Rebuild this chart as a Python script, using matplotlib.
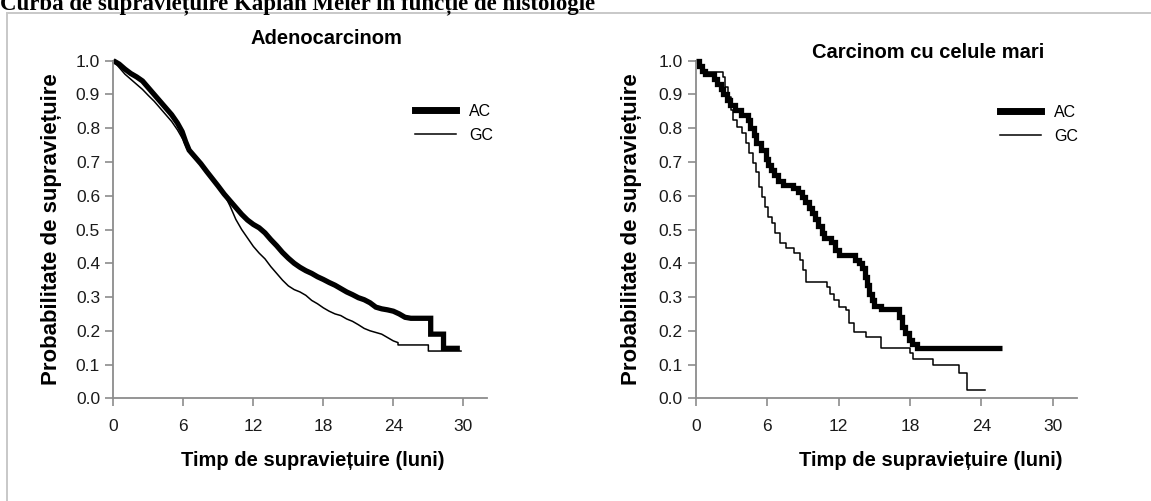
import matplotlib
matplotlib.use('Agg')
import matplotlib.pyplot as plt
from matplotlib.lines import Line2D

# ---------------- data ----------------
fig_title = "Curba de supraviețuire Kaplan Meier în funcție de histologie"
panel_titles = ["Adenocarcinom", "Carcinom cu celule mari"]
xlabel = "Timp de supraviețuire (luni)"
ylabel = "Probabilitate de supraviețuire"
series_labels = ["AC", "GC"]
x_ticks = [0, 6, 12, 18, 24, 30]
y_ticks = [0.0, 0.1, 0.2, 0.3, 0.4, 0.5, 0.6, 0.7, 0.8, 0.9, 1.0]

# Panel 1 - Adenocarcinom
adeno_ac_t = [0, 0.5, 1.0, 1.5, 2.0, 2.5, 3.0, 3.5, 4.0, 4.5, 5.0, 5.5, 5.9, 6.2, 6.5,
              7.0, 7.5, 8.0, 8.5, 9.0, 9.5, 10.0, 10.5, 11.0, 11.5, 12.0, 12.5, 13.0,
              13.5, 14.0, 14.5, 15.0, 15.5, 16.0, 16.5, 17.0, 17.5, 18.0, 18.5, 19.0,
              19.5, 20.0, 20.5, 21.0, 21.5, 22.0, 22.5, 23.0, 23.5, 24.0, 24.5, 25.0,
              25.5, 27.2, 27.2, 28.3, 28.3, 29.7]
adeno_ac_s = [1.0, 0.99, 0.975, 0.962, 0.952, 0.94, 0.92, 0.90, 0.88, 0.86, 0.84, 0.815,
              0.79, 0.76, 0.735, 0.715, 0.695, 0.672, 0.65, 0.628, 0.605, 0.585, 0.565,
              0.545, 0.528, 0.515, 0.505, 0.49, 0.47, 0.452, 0.432, 0.415, 0.40, 0.388,
              0.378, 0.37, 0.36, 0.352, 0.343, 0.335, 0.325, 0.315, 0.307, 0.298, 0.292,
              0.283, 0.27, 0.265, 0.262, 0.258, 0.25, 0.24, 0.237, 0.237, 0.19, 0.19,
              0.148, 0.148]
adeno_gc_t = [0, 0.5, 1.0, 1.5, 2.0, 2.5, 3.0, 3.5, 4.0, 4.5, 5.0, 5.5, 6.0, 6.3, 6.6,
              7.0, 7.5, 8.0, 8.5, 9.0, 9.5, 10.0, 10.5, 11.0, 11.5, 12.0, 12.5, 13.0,
              13.5, 14.0, 14.5, 15.0, 15.5, 16.0, 16.5, 17.0, 17.5, 18.0, 18.5, 19.0,
              19.5, 20.0, 20.5, 21.0, 21.5, 22.0, 22.5, 23.0, 23.5, 24.0, 24.4, 24.4,
              27.0, 27.0, 29.8]
adeno_gc_s = [1.0, 0.98, 0.96, 0.945, 0.93, 0.915, 0.897, 0.88, 0.86, 0.84, 0.82, 0.795,
              0.765, 0.74, 0.725, 0.71, 0.69, 0.67, 0.65, 0.628, 0.605, 0.57, 0.53, 0.50,
              0.475, 0.45, 0.43, 0.413, 0.39, 0.37, 0.35, 0.333, 0.322, 0.315, 0.305,
              0.29, 0.28, 0.268, 0.258, 0.25, 0.245, 0.235, 0.228, 0.218, 0.207, 0.20,
              0.195, 0.19, 0.18, 0.17, 0.165, 0.158, 0.158, 0.14, 0.14]

# Panel 2 - Carcinom cu celule mari
large_ac_t = [0, 0.3, 0.5, 0.8, 1.5, 1.8, 2.1, 2.3, 2.6, 2.9, 3.3, 3.8, 4.4, 4.6, 4.9,
              5.1, 5.5, 5.9, 6.1, 6.3, 6.6, 6.9, 7.3, 8.2, 8.6, 8.9, 9.2, 9.5, 9.8, 10.0,
              10.3, 10.6, 10.8, 11.4, 11.7, 12.0, 13.4, 13.7, 14.0, 14.2, 14.4, 14.6,
              14.8, 15.0, 15.6, 17.1, 17.3, 17.55, 17.9, 18.2, 18.6, 25.7]
large_ac_s = [1.0, 0.985, 0.97, 0.96, 0.945, 0.93, 0.915, 0.90, 0.885, 0.87, 0.855, 0.84,
              0.825, 0.80, 0.78, 0.755, 0.735, 0.71, 0.69, 0.675, 0.66, 0.645, 0.632,
              0.622, 0.61, 0.597, 0.58, 0.565, 0.548, 0.53, 0.51, 0.49, 0.475, 0.462,
              0.44, 0.424, 0.41, 0.40, 0.385, 0.36, 0.335, 0.31, 0.29, 0.272, 0.265,
              0.242, 0.212, 0.192, 0.173, 0.16, 0.148, 0.148]
large_gc_t = [0, 0.3, 0.64, 2.3, 2.5, 2.75, 2.95, 3.15, 3.5, 3.9, 4.2, 4.5, 4.8, 5.1,
              5.35, 5.6, 5.8, 6.1, 6.4, 6.7, 7.1, 7.6, 8.3, 8.8, 9.0, 9.3, 11.0, 11.3,
              11.6, 12.0, 12.6, 12.9, 13.3, 14.3, 15.6, 18.0, 18.3, 19.9, 22.1, 22.8, 24.3]
large_gc_s = [1.0, 0.98, 0.967, 0.953, 0.923, 0.893, 0.854, 0.824, 0.805, 0.785, 0.755,
              0.726, 0.696, 0.671, 0.627, 0.597, 0.568, 0.538, 0.518, 0.489, 0.459,
              0.444, 0.429, 0.41, 0.38, 0.345, 0.33, 0.31, 0.291, 0.271, 0.262, 0.222,
              0.197, 0.183, 0.148, 0.133, 0.115, 0.099, 0.074, 0.025, 0.025]

# ---------------- figure ----------------
W, H = 1151, 501
plt.rcParams['font.family'] = ['Liberation Sans', 'DejaVu Sans']
fig = plt.figure(figsize=(W / 100, H / 100), dpi=100)
fig.patch.set_facecolor('white')


def fx(px):
    return px / W


def fy(py):
    return 1 - py / H


# light frame (top and left edges)
fig.add_artist(Line2D([fx(7.5), 1.0], [fy(13.3), fy(13.3)], color='#c8c8c8', lw=1.4,
                      transform=fig.transFigure))
fig.add_artist(Line2D([fx(7.5), fx(7.5)], [fy(13.3), 0.0], color='#c8c8c8', lw=1.4,
                      transform=fig.transFigure))

fig.text(fx(0.5), fy(9.5), fig_title, ha='left', va='baseline', fontsize=16.5,
         fontweight='bold', family=['Liberation Serif', 'DejaVu Serif'], color='black')

axis_gray = '#8c8c8c'
panels = [
    dict(rect=(113.3, 486.7), data=(adeno_ac_t, adeno_ac_s, adeno_gc_t, adeno_gc_s),
         style='default',
         title=panel_titles[0], title_xy=(326.7, 38), ylab_x=52, xlab_x=312.5,
         leg_xy=(415, 104)),
    dict(rect=(695.7, 1076.5), data=(large_ac_t, large_ac_s, large_gc_t, large_gc_s),
         style='steps-post',
         title=panel_titles[1], title_xy=(928, 53), ylab_x=631, xlab_x=931,
         leg_xy=(1000, 105)),
]

for p in panels:
    x0, x1 = p['rect']
    ax = fig.add_axes([fx(x0), fy(398.3), (x1 - x0) / W, 337.6 / H])
    ax.set_xlim(0, 32)
    ax.set_ylim(0, 1.0)
    for side in ('top', 'right'):
        ax.spines[side].set_visible(False)
    for side in ('left', 'bottom'):
        ax.spines[side].set_color(axis_gray)
        ax.spines[side].set_linewidth(1.3)
    ax.set_xticks(x_ticks)
    ax.set_xticklabels([str(v) for v in x_ticks])
    ax.set_yticks(y_ticks)
    ax.set_yticklabels([f"{v:.1f}" for v in y_ticks])
    ax.tick_params(axis='both', direction='out', length=5.5, width=1.2, color=axis_gray,
                   labelsize=12.5, labelcolor='#1a1a1a')
    ax.tick_params(axis='x', pad=9.5)
    ax.tick_params(axis='y', pad=4)

    ac_t, ac_s, gc_t, gc_s = p['data']
    ax.plot(ac_t, ac_s, drawstyle=p['style'], color='black', lw=3.8,
            clip_on=False, solid_joinstyle='miter', solid_capstyle='butt')
    ax.plot(gc_t, gc_s, drawstyle=p['style'], color='black', lw=1.1,
            clip_on=False)

    lx, ly = p['leg_xy']
    ax.legend([Line2D([], [], color='black', lw=5),
               Line2D([], [], color='black', lw=1.1)], series_labels,
              loc='upper left', bbox_to_anchor=(fx(lx), fy(ly)),
              bbox_transform=fig.transFigure, frameon=False, fontsize=11.5,
              handlelength=2.55, handletextpad=0.85, labelspacing=0.55,
              borderpad=0, borderaxespad=0)

    tx, ty = p['title_xy']
    fig.text(fx(tx), fy(ty), p['title'], ha='center', va='center', fontsize=14.5,
             fontweight='bold', color='black')
    fig.text(fx(p['xlab_x']), fy(460), xlabel, ha='center', va='center', fontsize=14.5,
             fontweight='bold', color='black')
    fig.text(fx(p['ylab_x']), fy(229.5), ylabel, ha='center', va='center',
             rotation=90, fontsize=16, fontweight='bold', color='black')

fig.savefig('out.png', dpi=100, facecolor='white')
